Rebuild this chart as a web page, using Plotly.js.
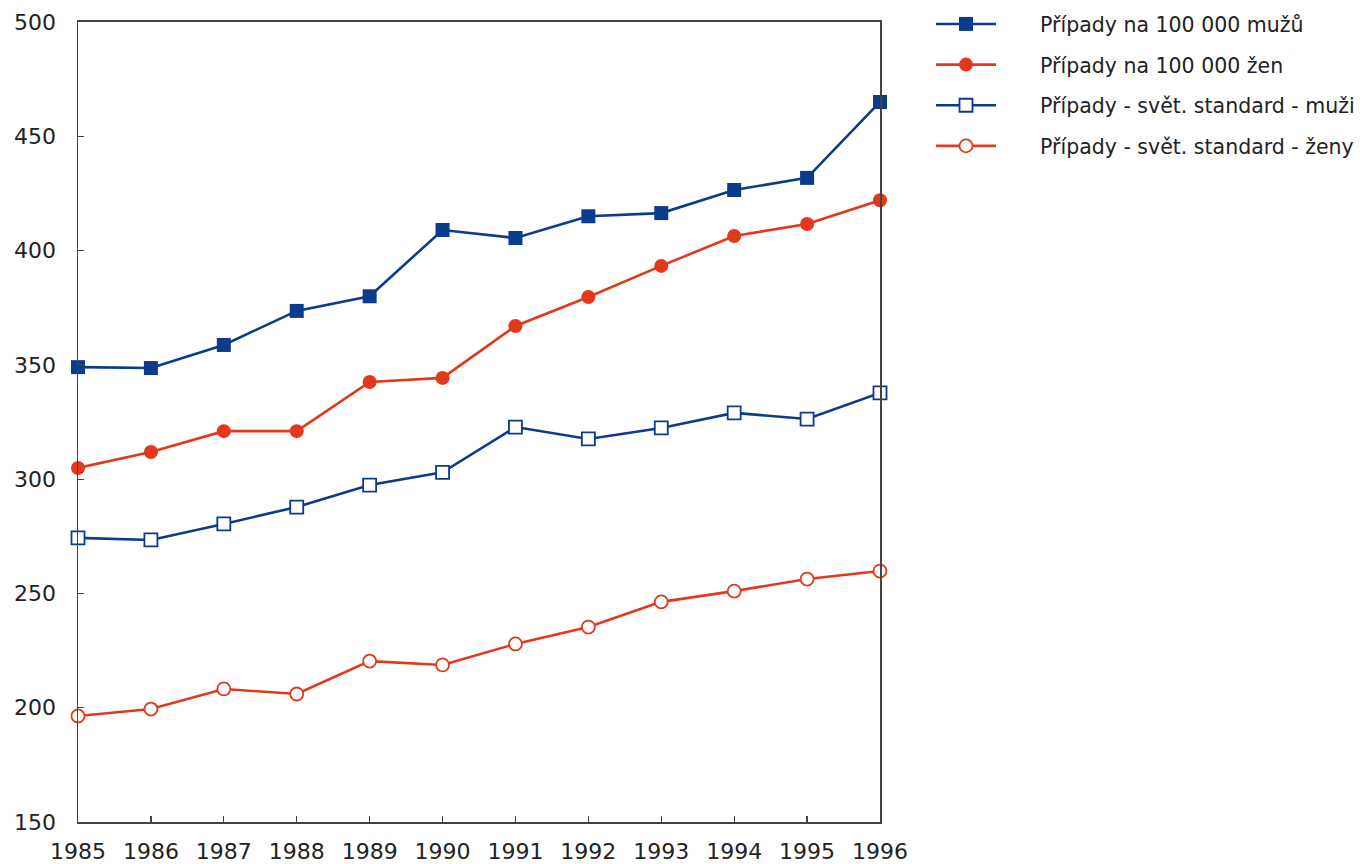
<!DOCTYPE html>
<html>
<head>
<meta charset="utf-8">
<script src="https://cdn.plot.ly/plotly-3.0.1.min.js"></script>
<style>html,body{margin:0;padding:0;background:#fff;}#chart{width:1360px;height:864px;}</style>
</head>
<body>
<div id="chart"></div>
<script>
const years = [1985,1986,1987,1988,1989,1990,1991,1992,1993,1994,1995,1996];
const muzi = [349,348.6,358.7,373.6,380,409,405.5,415,416.4,426.5,431.8,465];
const zeny = [304.9,311.9,321,321,342.5,344.3,367,379.7,393.3,406.4,411.6,422];
const stdMuzi = [274.3,273.4,280.4,287.8,297.4,303,322.8,317.6,322.4,329,326.3,337.7];
const stdZeny = [196.4,199.4,208.2,206,220.4,218.7,227.9,235.3,246.3,251,256.3,259.8];
const names = ["Případy na 100 000 mužů","Případy na 100 000 žen","Případy - svět. standard - muži","Případy - svět. standard - ženy"];
const yTicks = [150,200,250,300,350,400,450,500];

const blue = "#0c3b8c", red = "#e2391c";
const pad = "\u00a0\u00a0\u00a0\u00a0\u00a0\u00a0";
function tr(y, name, color, symbol, filled, grp){
  return {x: years, y: y, name: pad + name, type: "scatter", mode: "lines+markers",
    legendgroup: grp, cliponaxis: false,
    line: {color: color, width: 2.6},
    marker: {symbol: symbol, size: filled ? 14 : 13, color: filled ? color : "#fff",
      line: {color: color, width: filled ? 0 : 1.8}}};
}
const data = [
  tr(muzi, names[0], blue, "square", true, "a"),
  tr(zeny, names[1], red, "circle", true, "b"),
  tr(stdMuzi, names[2], blue, "square", false, "c"),
  tr(stdZeny, names[3], red, "circle", false, "d")
];
const font = "'DejaVu Sans', sans-serif";
const layout = {
  width: 1360, height: 864,
  margin: {l: 78, r: 480, t: 0, b: 42},
  paper_bgcolor: "#fff", plot_bgcolor: "#fff",
  font: {family: font, color: "#222"},
  showlegend: true,
  legend: {x: 1.064, y: 0.995, xanchor: "left", yanchor: "top",
    font: {size: 20.5, color: "#222", family: font},
    traceorder: "grouped", tracegroupgap: 11, itemwidth: 60, bgcolor: "rgba(0,0,0,0)"},
  xaxis: {range: [1985, 1996], tickmode: "array", tickvals: years, ticktext: years.map(String),
    automargin: false,
    showgrid: false, zeroline: false, showline: true, linecolor: "#444", linewidth: 1.5,
    mirror: true, ticks: "inside", ticklen: 6, tickcolor: "#444", tickwidth: 1.2,
    tickfont: {size: 22, color: "#222"}, ticklabelstandoff: 9},
  yaxis: {range: [150, 500], domain: [0, 0.97324], tickmode: "array", tickvals: yTicks, ticktext: yTicks.map(String),
    automargin: false,
    showgrid: false, zeroline: false, showline: true, linecolor: "#444", linewidth: 1.5,
    mirror: true, ticks: "inside", ticklen: 6, tickcolor: "#444", tickwidth: 1.2,
    tickfont: {size: 22, color: "#222"}, ticklabelstandoff: 16}
};
Plotly.newPlot("chart", data, layout, {displayModeBar: false, staticPlot: true});
</script>
</body>
</html>
